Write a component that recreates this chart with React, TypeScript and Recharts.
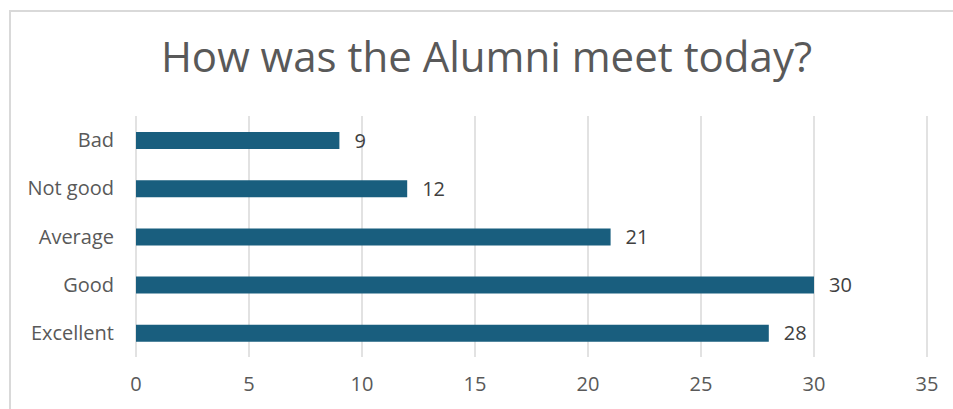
import { Bar, BarChart, CartesianGrid, LabelList, XAxis, YAxis } from 'recharts';

const ratings = ['Bad', 'Not good', 'Average', 'Good', 'Excellent'];
const responses = [9, 12, 21, 30, 28];
const xTicks = [0, 5, 10, 15, 20, 25, 30, 35];

const data = ratings.map((rating, i) => ({ rating, count: responses[i] }));

const font = '"Open Sans", sans-serif';

export default function App() {
  return (
    <div
      style={{
        position: 'absolute',
        left: 0,
        top: 0,
        width: 953,
        height: 409,
        overflow: 'hidden',
        background: '#fff',
        fontFamily: font,
      }}
    >
      <div
        style={{
          position: 'absolute',
          left: 9,
          top: 10,
          width: 944,
          height: 399,
          borderLeft: '2px solid #d9d9d9',
          borderTop: '2px solid #d9d9d9',
        }}
      />
      <div
        style={{
          position: 'absolute',
          left: 9,
          top: 27,
          width: 955,
          textAlign: 'center',
          fontSize: 42,
          color: '#595959',
          whiteSpace: 'nowrap',
        }}
      >
        How was the Alumni meet today?
      </div>
      <div style={{ position: 'absolute', left: 0, top: 0 }}>
        <BarChart
          width={953}
          height={409}
          data={data}
          layout="vertical"
          margin={{ top: 116, right: 26, bottom: 0, left: 0 }}
        >
          <CartesianGrid horizontal={false} stroke="#d9d9d9" strokeWidth={1.5} />
          <XAxis
            type="number"
            domain={[0, 35]}
            ticks={xTicks}
            axisLine={false}
            tickLine={false}
            tickSize={0}
            tickMargin={20}
            height={52}
            tick={{ fill: '#595959', fontSize: 20, fontFamily: font }}
          />
          <YAxis
            type="category"
            dataKey="rating"
            width={136}
            axisLine={false}
            tickLine={false}
            tickSize={0}
            tickMargin={22}
            tick={{ fill: '#595959', fontSize: 20, fontFamily: font }}
          />
          <Bar dataKey="count" fill="#195E7E" barSize={17} isAnimationActive={false}>
            <LabelList
              dataKey="count"
              position="right"
              offset={15}
              fill="#404040"
              fontSize={20}
              fontFamily={font}
            />
          </Bar>
        </BarChart>
      </div>
    </div>
  );
}
